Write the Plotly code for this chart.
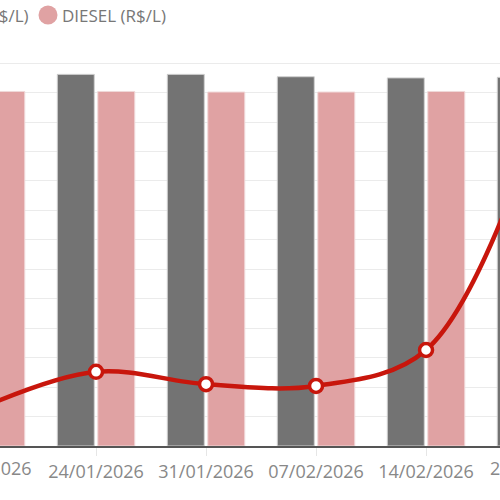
import plotly.graph_objects as go

dates = ["17/01/2026", "24/01/2026", "31/01/2026", "07/02/2026", "14/02/2026", "21/02/2026"]
gasolina = [6.30, 6.31, 6.31, 6.27, 6.25, 6.26]
diesel = [6.02, 6.02, 6.01, 6.01, 6.02, 6.03]
indice = [0.68, 1.26, 1.05, 1.02, 1.63, 5.4]
legend_labels = ["GASOLINA (R$/L)", "DIESEL (R$/L)"]

GRAY = "#737373"
PINK = "#e0a2a3"
RED = "#c8160c"
font = "Open Sans, sans-serif"
W, H = 510, 500

fig = go.Figure()
fig.add_bar(x=dates, y=gasolina, name=legend_labels[0], marker=dict(color=GRAY, line=dict(color="#d0d0d0", width=1)), showlegend=False)
fig.add_bar(x=dates, y=diesel, name=legend_labels[1], marker=dict(color=PINK, line=dict(color="#f0d8d8", width=1)), showlegend=False)
fig.add_scatter(x=dates, y=indice, yaxis="y2", mode="lines+markers", line=dict(color=RED, width=4.5, shape="spline", smoothing=1.0),
                marker=dict(size=13, color="white", line=dict(color=RED, width=3.5)), showlegend=False, cliponaxis=False)

PH = 384
ly = 1 + 47 / PH
cx = 48 / W
fig.add_shape(type="circle", xref="paper", yref="paper", x0=cx - 9.5 / W, x1=cx + 9.5 / W,
              y0=ly - 9.5 / PH, y1=ly + 9.5 / PH, fillcolor=PINK, line=dict(width=0))
fig.add_annotation(xref="paper", yref="paper", x=cx + 12 / W, y=ly, xanchor="left", yanchor="middle",
                   text=legend_labels[1], showarrow=False, font=dict(size=17, color="#777777", family=font))
fig.add_annotation(xref="paper", yref="paper", x=31 / W, y=ly, xanchor="right", yanchor="middle",
                   text=legend_labels[0], showarrow=False, font=dict(size=17, color="#777777", family=font))
# partially visible tick labels at the cut edges
fig.add_annotation(xref="paper", yref="paper", x=34 / W, y=-22 / PH, xanchor="right", yanchor="middle",
                   text=dates[0], showarrow=False, font=dict(size=18, color="#888888", family=font))
fig.add_annotation(xref="paper", yref="paper", x=488 / W, y=-22 / PH, xanchor="left", yanchor="middle",
                   text=dates[-1], showarrow=False, font=dict(size=18, color="#888888", family=font))

fig.update_layout(
    width=W, height=H, margin=dict(l=0, r=0, t=62, b=54, autoexpand=False),
    paper_bgcolor="white", plot_bgcolor="white",
    font=dict(family=font, color="#888888", size=15),
    barmode="group", bargap=0.264, bargroupgap=0.087, showlegend=False,
    xaxis=dict(type="category", range=[0.127, 0.127 + W / 110], showgrid=False, showline=True, linecolor="#555555", linewidth=2,
               automargin=False, ticks="outside", ticklen=8, tickcolor="#e6e6e6", tickfont=dict(size=18, color="#888888")),
    yaxis=dict(range=[0, 6.52], dtick=0.5, showgrid=True, gridcolor="#ebebeb", showticklabels=False, zeroline=False, automargin=False),
    yaxis2=dict(range=[0, 6.52], overlaying="y", visible=False),
)
fig.write_html("out.html", config={"displayModeBar": False},
               post_script="document.body.style.margin='0';document.body.style.overflow='hidden';")
